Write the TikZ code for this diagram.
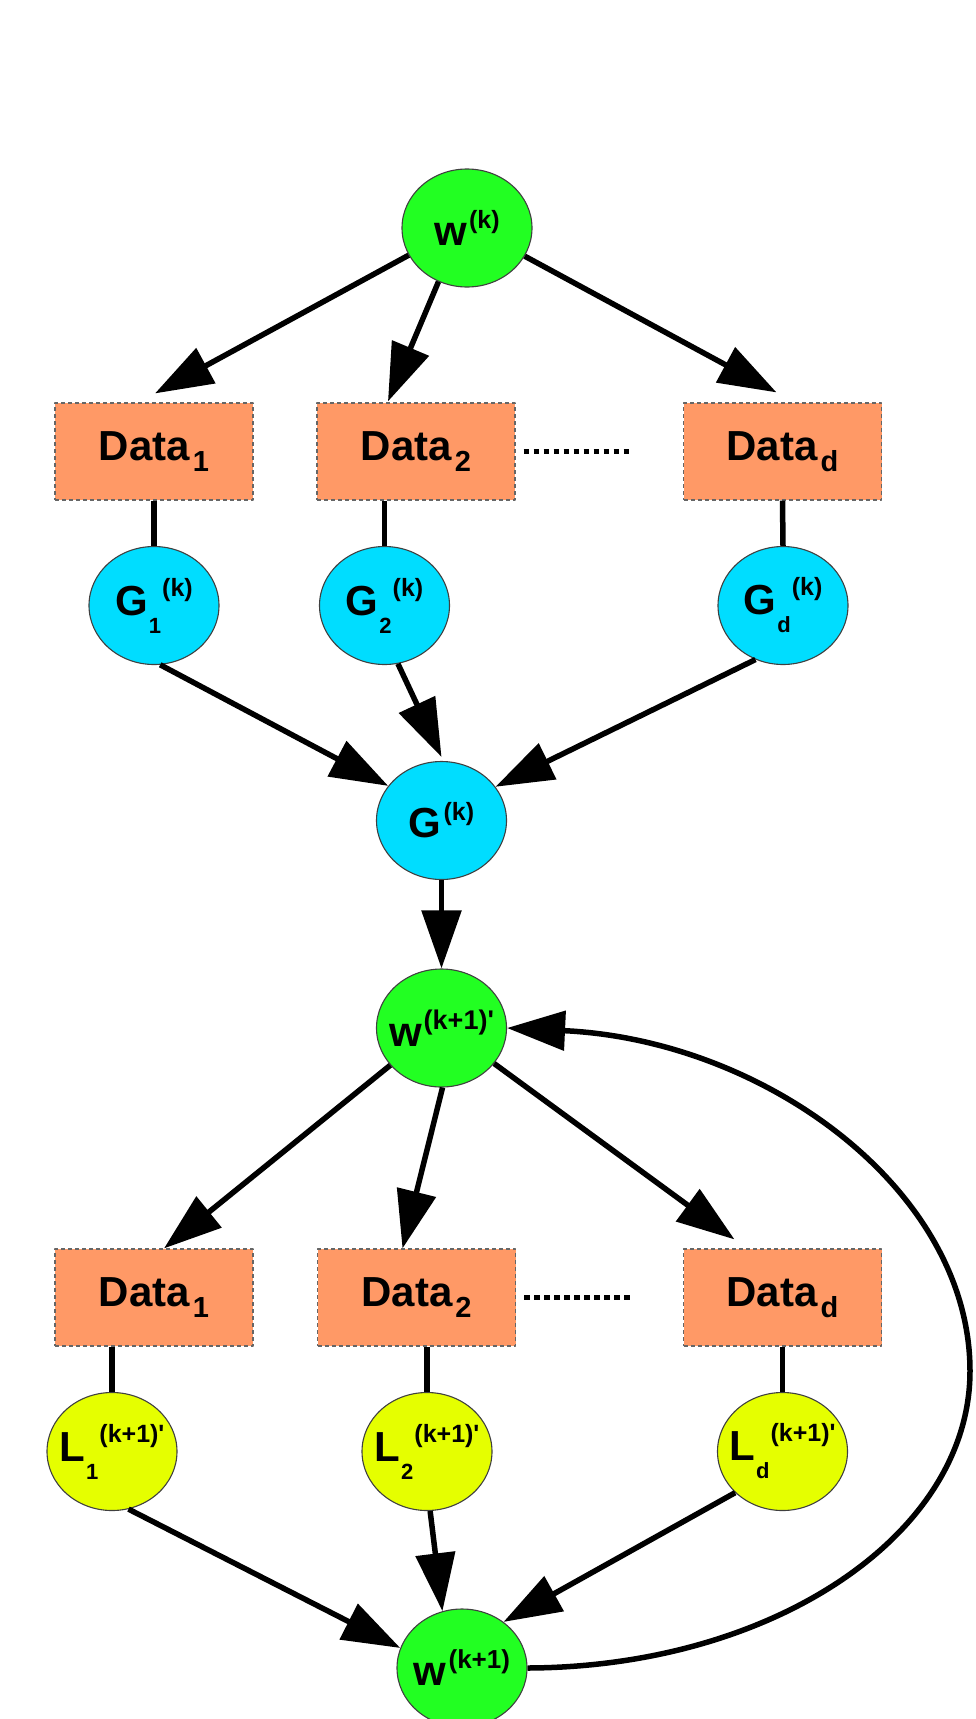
\documentclass[tikz,border=0pt]{standalone}
\usepackage{fontspec}
\newfontfamily\lblfont{Liberation Sans}
\usetikzlibrary{shapes.geometric,arrows.meta}

\definecolor{wgreen}{RGB}{34,255,34}
\definecolor{gcyan}{RGB}{0,221,255}
\definecolor{lyellow}{RGB}{229,255,0}
\definecolor{dorange}{RGB}{255,153,102}

% index helpers: subscript / superscript set one after the other
\newcommand\Dsub[1]{\kern3pt\raisebox{-11pt}{\fontsize{29}{29}\selectfont #1}}
\newcommand\Nsub[1]{\kern1pt\raisebox{-18pt}{\fontsize{22}{22}\selectfont #1}}
\newcommand\Nsup[1]{\kern1pt\raisebox{19pt}{\fontsize{25}{25}\selectfont #1}}
\newcommand\Wsup[2][25]{\kern2pt\raisebox{17pt}{\fontsize{#1}{#1}\selectfont #2}}

\begin{document}
\begin{tikzpicture}[x=1pt,y=-1pt,line join=round,
  oval/.style={ellipse,draw=black!75,line width=1.1pt,minimum width=130pt,minimum height=118pt,inner sep=0pt},
  wnode/.style={oval,fill=wgreen},
  gnode/.style={oval,fill=gcyan},
  lnode/.style={oval,fill=lyellow},
  lbl/.style={inner sep=0pt,font=\lblfont\bfseries\fontsize{42}{48}\selectfont},
  databox/.style={rectangle,draw=black!60,dash pattern=on 4pt off 3pt,line width=1.2pt,fill=dorange,
    minimum width=198pt,minimum height=97pt,inner sep=0pt,font=\lblfont\bfseries\fontsize{42}{48}\selectfont},
  link/.style={line width=5.5pt},
  arr/.style={line width=5.5pt,-{Triangle[length=58pt,width=39pt]}},
  dotline/.style={line width=5.5pt,dash pattern=on 5.5pt off 4.5pt}]

\useasboundingbox (0,0) rectangle (975,1719);

% ---- upper stage: gradients ----
\node[wnode] (w0) at (467,228) {};
\node[lbl] (w0t) at (w0) {w\Wsup{(k)}};

\node[databox] (d1a) at (154,451.5) {Data\Dsub{1}};
\node[databox] (d2a) at (416,451.5) {Data\Dsub{2}};
\node[databox] (dda) at (782.5,451.5) {Data\Dsub{d}};

\node[gnode] (g1) at (154,605.5) {};
\node[lbl] (g1t) at (g1) {G\Nsub{1}\Nsup{(k)}};
\node[gnode] (g2) at (384.5,605.5) {};
\node[lbl] (g2t) at (g2) {G\Nsub{2}\Nsup{(k)}};
\node[gnode] (gd) at (783,605.5) {};
\node[lbl] (gdt) at (gd) {G\Nsub{d}\Nsup{(k)}};

\node[gnode] (G) at (441.5,820.5) {};
\node[lbl] (Gt) at (G) {G\Wsup{(k)}};

\node[wnode] (w1p) at (441.5,1028) {};
\node[lbl] (w1pt) at (w1p) {w\Wsup[27]{(k+1)'}};

% ---- lower stage: local steps ----
\node[databox] (d1b) at (154,1297.5) {Data\Dsub{1}};
\node[databox] (d2b) at (416.5,1297.5) {Data\Dsub{2}};
\node[databox] (ddb) at (782.5,1297.5) {Data\Dsub{d}};

\node[lnode] (l1) at (112,1451.5) {};
\node[lbl] (l1t) at (l1) {L\Nsub{1}\Nsup{(k+1)'}};
\node[lnode] (l2) at (427,1451.5) {};
\node[lbl] (l2t) at (l2) {L\Nsub{2}\Nsup{(k+1)'}};
\node[lnode] (ld) at (782.5,1451.5) {};
\node[lbl] (ldt) at (ld) {L\Nsub{d}\Nsup{(k+1)'}};

\node[wnode] (w1) at (462,1668) {};
\node[lbl] (w1t) at (w1) {w\Wsup[26]{(k+1)}};

\coordinate (loop) at (970,1371);

% ---- connectors, upper stage ----
\draw[arr] (w0.205) -- ([xshift=1pt,yshift=9pt]d1a.north);
\draw[arr] (w0.242) -- ([xshift=-28pt,yshift=1pt]d2a.north);
\draw[arr] (w0.334) -- ([xshift=-6pt,yshift=10pt]dda.north);

\draw[link] (d1a.south) -- (g1.north);
\draw[link] (g2.north |- d2a.south) -- (g2.north);
\draw[link] (dda.south) -- (gd.north);
\draw[dotline] ([xshift=8pt]d2a.east) -- ([xshift=-50pt]dda.west);

\draw[arr] (g1.276) -- (G.147);
\draw[arr] (g2.283) -- ([yshift=4pt]G.north);
\draw[arr] (gd.243) -- (G.32);
\draw[arr] (G.south) -- (w1p.north);

% ---- connectors, lower stage ----
\draw[arr] (w1p.216) -- ([xshift=10pt]d1b.north);
\draw[arr] (w1p.271) -- ([xshift=-14pt]d2b.north);
\draw[arr] (w1p.326) -- ([xshift=-48pt,yshift=9pt]ddb.north);

\draw[link] (l1.north |- d1b.south) -- (l1.north);
\draw[link] (l2.north |- d2b.south) -- (l2.north);
\draw[link] (ddb.south) -- (ld.north);
\draw[dotline] ([xshift=8pt]d2b.east) -- ([xshift=-50pt]ddb.west);

\draw[arr] (l1.286) -- (w1.162);
\draw[arr] (l2.273) -- (w1.109);
\draw[arr] (ld.221) -- (w1.48);

% feedback loop back to the next iterate
\draw[arr] (w1.east) .. controls (774,1667) and (970,1534) .. (loop)
  .. controls (970,1190) and (765,1040) .. (w1p.east);
\end{tikzpicture}
\end{document}
